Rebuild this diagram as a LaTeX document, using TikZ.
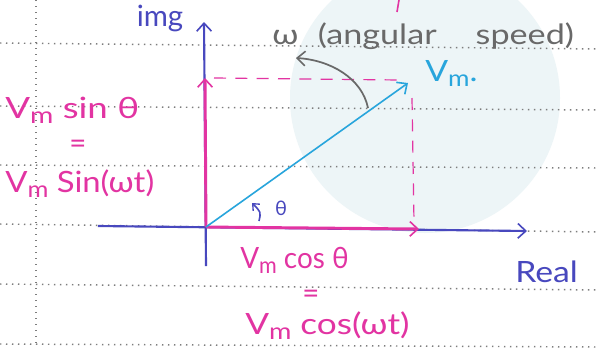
\documentclass[tikz,border=0pt]{standalone}
\usepackage{fontspec}
\setmainfont{Lato}
\usetikzlibrary{arrows.meta}
\definecolor{pinkc}{RGB}{226,52,162}
\definecolor{axisc}{RGB}{72,72,190}
\definecolor{vecc}{RGB}{40,165,220}
\definecolor{greyc}{RGB}{105,105,105}
\definecolor{dotc}{RGB}{125,125,125}
\definecolor{wmark}{RGB}{237,245,247}
\newcommand{\Vmm}{V\raisebox{-4pt}{\fontsize{17}{17}\selectfont m}}
\tikzset{
  hand/.tip={Straight Barb[length=6pt,width=11pt,line width=1.2pt]},
  smallhand/.tip={Straight Barb[length=4pt,width=7pt,line width=1pt]},
  paper/.style={dotc, line width=1.1pt, dash pattern=on 1.1pt off 3.4pt},
  axisline/.style={axisc, line width=1.6pt, -{hand}},
  pinkarrow/.style={pinkc, line width=2.2pt, -{hand}},
  vecline/.style={vecc, line width=1.2pt, -{hand}},
  guide/.style={pinkc, line width=0.9pt, dash pattern=on 9pt off 7pt},
  lbl/.style={inner sep=0pt, font=\fontsize{22}{26}\selectfont},
}
\begin{document}
\begin{tikzpicture}[x=0.75pt,y=-0.75pt]
\useasboundingbox (0,0) rectangle (599,347);
\fill[white] (0,0) rectangle (599,347);
\fill[wmark] (425,98) circle (135);
% notebook paper
\draw[paper] (0,43) -- (599,49);
\draw[paper] (0,106) -- (599,110);
\draw[paper] (0,165) -- (599,168);
\draw[paper] (0,224) -- (599,232);
\draw[paper] (0,284) -- (599,290);
\draw[paper] (0,344) -- (599,347);
\draw[paper] (36,0) -- (36,347);
% stray stroke
\draw[pinkc, line width=1.2pt] (399,0) -- (397,12);
% coordinates
\coordinate (O) at (206,227);
\coordinate (ytop) at (204,22);
\coordinate (ybot) at (206,266);
\coordinate (xleft) at (98,226);
\coordinate (xright) at (527,231);
\coordinate (py) at (205,78);
\coordinate (px) at (419,229);
\coordinate (tip) at (408,83);
% dashed guides
\coordinate (g1) at (214,78);
\coordinate (g2) at (400,80);
\coordinate (g3) at (412,98);
\coordinate (g4) at (414,222);
\draw[guide] (g1) -- (g2);
\draw[guide] (g3) -- (g4);
% axes
\draw[axisline] (ybot) -- (ytop);
\draw[axisline] (xleft) -- (xright);
% components
\draw[pinkarrow] (O) -- (py);
\draw[pinkarrow] (O) -- (px);
% phasor
\draw[vecline] (O) -- (tip);
% angular speed arc
\coordinate (w1) at (368,108);
\coordinate (w2) at (296,58);
\draw[greyc, line width=1.3pt, -{hand}] (w1) .. controls (362,78) and (330,60) .. (w2);
% theta arc
\coordinate (t1) at (259,221);
\coordinate (t2) at (252,203);
\draw[axisc, line width=1.2pt, -{smallhand}] (t1) .. controls (261,212) .. (t2);
% labels
\node[lbl, axisc, anchor=base] (img) at (160,26) {img};
\node[lbl, greyc, anchor=base west, font=\fontsize{21}{25}\selectfont] (omega) at (272,44) {\scalebox{1.22}[1]{ω\hspace{12pt}(angular\hspace{24pt}speed)}};
\node[lbl, vecc, anchor=base west] (vm) at (425,81) {\scalebox{1.15}[1]{\Vmm.}};
\node[lbl, pinkc, anchor=base west] (vs) at (5,118) {\scalebox{1.25}[1]{\Vmm\ sin θ}};
\node[lbl, pinkc] (eq1) at (78,147) {=};
\node[lbl, pinkc, anchor=base west] (vs2) at (5,192) {\scalebox{1.12}[1]{\Vmm\ Sin(ωt)}};
\node[lbl, axisc, font=\fontsize{15}{18}\selectfont] (th) at (281,208) {θ};
\node[lbl, pinkc, anchor=base west] (vc) at (240,268) {\scalebox{0.95}[1]{\Vmm\ cos θ}};
\node[lbl, pinkc] (eq2) at (311,297) {=};
\node[lbl, pinkc, anchor=base west] (vc2) at (245,334) {\scalebox{1.2}[1]{\Vmm\ cos(ωt)}};
\node[lbl, axisc, anchor=base west] (real) at (515,282) {\scalebox{1.15}[1]{Real}};
\end{tikzpicture}
\end{document}
